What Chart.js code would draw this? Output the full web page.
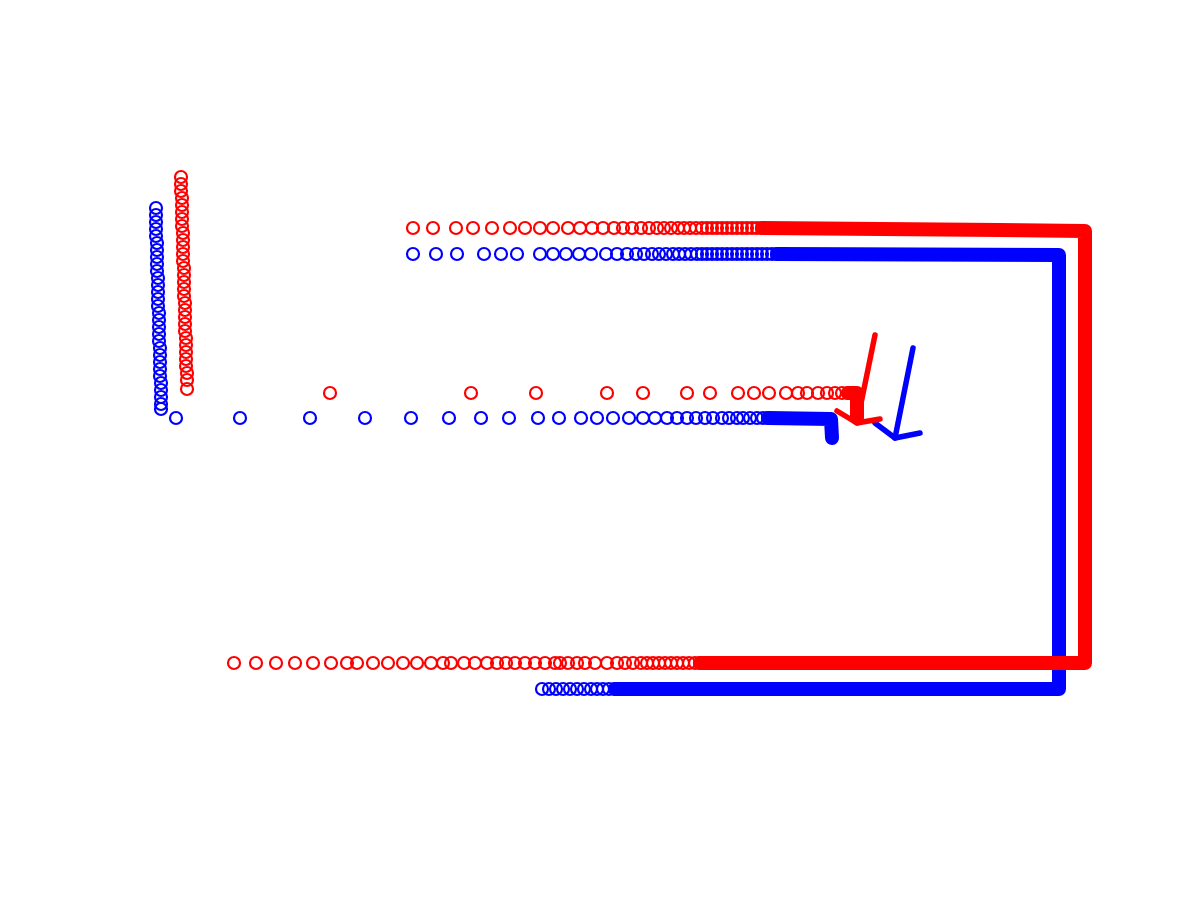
<!DOCTYPE html>
<html><head><meta charset="utf-8">
<script src="https://cdn.jsdelivr.net/npm/chart.js@4.4.0/dist/chart.umd.min.js"></script>
<style>html,body{margin:0;padding:0;background:#fff;}canvas{display:block;}</style>
</head><body>
<canvas id="c" width="1200" height="900"></canvas>
<script>
// ---- data (x right, y up; plot range 0..1200 by 0..900) ----
const RED = '#ff0000', BLUE = '#0000ff';

// red series, sampled points
const redColX = [181,181,181,182,182,182,182,182,183,183,183,183,183,184,184,184,184,184,185,185,185,185,185,186,186,186,186,186,187,187,187];
const redColY = [723,716,709,702,695,688,681,674,667,660,653,646,639,632,625,618,611,604,597,590,583,576,569,562,555,548,541,534,527,520,511];
const redTopX = [413,433,456,473,492,510,525,540,553,568,580,592,603,614,623,632,641,649,657,664,671,678,684,690,696,702,707,712,717,722,727,732,737,742,747,752,757,762];
const redTopLevel = 672;
const redMidX = [330,471,536,607,643,687,710,738,754,769,786,798,807,818,827,835,842,848];
const redMidLevel = 507;
const redBotX = [234,256,276,295,313,331,347,357,373,388,403,417,431,443,451,464,475,487,497,506,515,525,535,545,555,560,568,577,585,595,607,617,625,633,641,647,653,659,665,671,677,683,689,695,700];
const redBotLevel = 237;
// red dense stretches (points so close they merge into a band)
const redBandX = [762,1000,1085,1085,700];
const redBandY = [672,670,669,237,237];
const redTailX = [848,857,857];
const redTailY = [507,507,482];

// blue series, sampled points
const blueColX = [156,156,156,156,156,157,157,157,157,157,158,158,158,158,158,159,159,159,159,159,160,160,160,160,160,161,161,161,161,161];
const blueColY = [692,685,678,671,664,657,650,643,636,629,622,615,608,601,594,587,580,573,566,559,552,545,538,531,524,517,510,503,496,491];
const blueTopX = [413,436,457,484,501,517,540,553,566,579,591,606,617,627,636,644,652,659,666,673,679,685,691,697,702,707,712,717,722,727,732,737,742,747,752,757,762,767,772,777];
const blueTopLevel = 646;
const blueMidX = [176,240,310,365,411,449,481,509,538,559,581,597,613,629,643,655,667,677,687,696,705,713,722,729,737,743,750,757,763,768];
const blueMidLevel = 482;
const blueBotX = [542,549,556,563,570,577,584,591,597,603,609,615];
const blueBotLevel = 211;
const blueBandX = [777,1059,1059,615];
const blueBandY = [646,645,211,211];
const blueTailX = [768,831,832];
const blueTailY = [482,481,462];

// arrows: shaft start, tip, and the two head barbs
const redArrowX = [875,857];  const redArrowY = [565,477];
const redHeadX = [837,857,880]; const redHeadY = [489,477,481];
const blueArrowX = [913,895]; const blueArrowY = [552,462];
const blueHeadX = [875,895,920]; const blueHeadY = [477,462,467];

// ---- build ----
const pts = (xs, ys) => xs.map((x, i) => ({x, y: ys[i]}));
const row = (xs, lv) => xs.map(x => ({x, y: lv}));

function circles(data, color, order) {
  return {data, showLine:false, pointStyle:'circle', pointRadius:6, pointBorderWidth:2.2,
    pointBorderColor:color, pointBackgroundColor:'rgba(0,0,0,0)', borderColor:color, order};
}
function band(data, color, width, order) {
  return {data, showLine:true, pointRadius:0, borderColor:color, borderWidth:width,
    borderCapStyle:'round', borderJoinStyle:'round', tension:0, fill:false, order};
}

const datasets = [
  band(pts(redArrowX, redArrowY), RED, 5.5, 0),
  band(pts(redHeadX, redHeadY), RED, 5.5, 0),
  band(pts(blueArrowX, blueArrowY), BLUE, 5.5, 0),
  band(pts(blueHeadX, blueHeadY), BLUE, 5.5, 0),
  circles(pts(redColX, redColY), RED, 1),
  circles(row(redTopX, redTopLevel), RED, 1),
  circles(row(redMidX, redMidLevel), RED, 1),
  circles(row(redBotX, redBotLevel), RED, 1),
  band(pts(redBandX, redBandY), RED, 14, 1),
  band(pts(redTailX, redTailY), RED, 14, 1),
  circles(pts(blueColX, blueColY), BLUE, 2),
  circles(row(blueTopX, blueTopLevel), BLUE, 2),
  circles(row(blueMidX, blueMidLevel), BLUE, 2),
  circles(row(blueBotX, blueBotLevel), BLUE, 2),
  band(pts(blueBandX, blueBandY), BLUE, 14, 2),
  band(pts(blueTailX, blueTailY), BLUE, 14, 2)
];

new Chart(document.getElementById('c'), {
  type: 'scatter',
  data: { datasets },
  options: {
    responsive: false, animation: false, devicePixelRatio: 1, events: [],
    layout: { padding: 0, autoPadding: false },
    plugins: { legend: { display: false }, tooltip: { enabled: false } },
    scales: {
      x: { type: 'linear', min: 0, max: 1200, display: false },
      y: { type: 'linear', min: 0, max: 900, display: false }
    }
  }
});
</script></body></html>
